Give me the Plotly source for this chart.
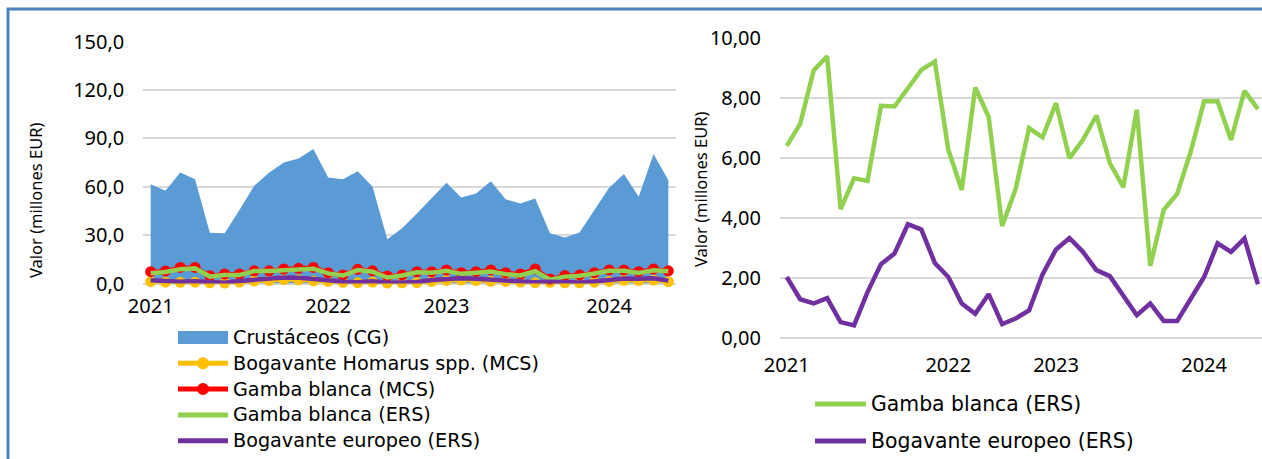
import plotly.graph_objects as go

# ─── Data ─────────────────────────────────────────────────────────────────────

periodo = list(range(36))  # monthly observations
year_labels = ["2021", "2022", "2023", "2024"]
year_pos = [0, 12, 20, 31]

crustaceos_cg = [61.5, 57.5, 68.9, 64.6, 31.5, 31.1, 45.6, 60.6, 68.7, 75.1, 77.6, 83.4,
                 65.8, 64.6, 69.7, 60.0, 27.4, 34.2, 43.5, 53.2, 62.5, 53.4, 55.9, 63.5,
                 52.2, 49.7, 52.8, 31.1, 28.6, 31.7, 45.6, 59.4, 67.9, 53.8, 80.3, 64.2]

bogavante_homarus_mcs = [1.2, 0.8, 0.7, 0.8, 0.4, 0.3, 0.9, 1.5, 1.8, 2.4, 2.3, 1.6,
                         1.3, 0.7, 0.5, 0.9, 0.3, 0.4, 0.6, 1.3, 1.9, 2.1, 1.8, 1.4,
                         1.3, 0.9, 0.5, 0.7, 0.4, 0.4, 0.8, 1.3, 2.0, 1.8, 2.1, 1.1]

gamba_blanca_mcs = [7.3, 7.8, 10.0, 10.0, 4.8, 5.9, 5.9, 7.9, 7.9, 9.0, 9.4, 10.0,
                    6.7, 5.3, 8.8, 7.9, 4.6, 5.3, 7.3, 7.3, 8.4, 6.7, 7.3, 8.4,
                    6.7, 5.9, 9.0, 2.8, 4.9, 5.3, 6.7, 8.4, 8.4, 7.3, 9.0, 7.9]

gamba_blanca_ers = [6.40, 7.13, 8.91, 9.38, 4.29, 5.32, 5.23, 7.73, 7.71, 8.32, 8.93, 9.21,
                    6.27, 4.93, 8.34, 7.36, 3.73, 4.96, 6.99, 6.68, 7.82, 5.99, 6.60, 7.41,
                    5.82, 5.02, 7.60, 2.40, 4.27, 4.80, 6.20, 7.88, 7.88, 6.60, 8.23, 7.62]

bogavante_europeo_ers = [2.03, 1.29, 1.15, 1.33, 0.53, 0.42, 1.53, 2.46, 2.81, 3.79, 3.61, 2.50,
                         2.03, 1.15, 0.81, 1.46, 0.46, 0.65, 0.92, 2.12, 2.95, 3.33, 2.87, 2.26,
                         2.06, 1.42, 0.76, 1.15, 0.57, 0.57, 1.31, 2.03, 3.15, 2.87, 3.31, 1.79]

# ─── Theme ────────────────────────────────────────────────────────────────────

W, H = 1262, 459
FONT = "Noto Sans"
LEG_FONT = "DejaVu Sans"
TEXT = "#000000"
GRID = "#d9d9d9"
BLUE = "#5b9bd5"
YELLOW = "#ffc000"
RED = "#ff0000"
GREEN = "#92d050"
PURPLE = "#7030a0"


def px_x(p):
    return p / W


def px_y(p):
    return (H - p) / H


fig = go.Figure()

# left panel
fig.add_trace(go.Scatter(
    x=periodo, y=crustaceos_cg, name="Crustáceos (CG)",
    mode="lines", fill="tozeroy", fillcolor=BLUE,
    line=dict(color=BLUE, width=0), xaxis="x", yaxis="y",
))
fig.add_trace(go.Scatter(
    x=periodo, y=bogavante_homarus_mcs, name="Bogavante Homarus spp. (MCS)",
    mode="lines+markers", line=dict(color=YELLOW, width=4),
    marker=dict(color=YELLOW, size=11), cliponaxis=False, xaxis="x", yaxis="y",
))
fig.add_trace(go.Scatter(
    x=periodo, y=gamba_blanca_mcs, name="Gamba blanca (MCS)",
    mode="lines+markers", line=dict(color=RED, width=4),
    marker=dict(color=RED, size=11), cliponaxis=False, xaxis="x", yaxis="y",
))
fig.add_trace(go.Scatter(
    x=periodo, y=gamba_blanca_ers, name="Gamba blanca (ERS)",
    mode="lines", line=dict(color=GREEN, width=4.5), xaxis="x", yaxis="y",
))
fig.add_trace(go.Scatter(
    x=periodo, y=bogavante_europeo_ers, name="Bogavante europeo (ERS)",
    mode="lines", line=dict(color=PURPLE, width=4.5), xaxis="x", yaxis="y",
))

# right panel
fig.add_trace(go.Scatter(
    x=periodo, y=gamba_blanca_ers, name="Gamba blanca (ERS)",
    mode="lines", line=dict(color=GREEN, width=4.5), xaxis="x2", yaxis="y2",
))
fig.add_trace(go.Scatter(
    x=periodo, y=bogavante_europeo_ers, name="Bogavante europeo (ERS)",
    mode="lines", line=dict(color=PURPLE, width=4.5), xaxis="x2", yaxis="y2",
))

axis_font = dict(family=FONT, size=20, color=TEXT)

fig.update_layout(
    width=W, height=H,
    paper_bgcolor="white", plot_bgcolor="white",
    margin=dict(l=0, r=0, t=0, b=0, autoexpand=False),
    separators=",.",
    font=dict(family=FONT, color=TEXT),
    showlegend=False,
    xaxis=dict(
        domain=[px_x(143.3), px_x(675.7)], range=[-0.5, 35.5],
        tickvals=year_pos, ticktext=year_labels, tickfont=axis_font,
        showgrid=False, zeroline=False, showline=False, ticks="",
        ticklabelstandoff=8, anchor="y",
    ),
    yaxis=dict(
        domain=[px_y(283.5), px_y(41.7)], range=[0, 150], dtick=30,
        tickformat=".1f", tickfont=axis_font,
        showgrid=True, gridcolor=GRID, gridwidth=1.5,
        zeroline=True, zerolinecolor=GRID, zerolinewidth=1.5,
        showline=False, ticks="", ticklabelstandoff=18, anchor="x",
    ),
    xaxis2=dict(
        domain=[px_x(780), 1.0], range=[-0.5, 35.3],
        tickvals=year_pos, ticktext=year_labels, tickfont=axis_font,
        showgrid=False, zeroline=False, showline=False, ticks="",
        ticklabelstandoff=13, anchor="y2",
    ),
    yaxis2=dict(
        domain=[px_y(338), px_y(37.7)], range=[0, 10], dtick=2,
        tickformat=".2f", tickfont=axis_font,
        showgrid=True, gridcolor=GRID, gridwidth=1.5,
        zeroline=True, zerolinecolor=GRID, zerolinewidth=1.5,
        showline=False, ticks="", ticklabelstandoff=18, anchor="x2",
    ),
)

# axis titles
for xc, yc in [(35, 201), (700, 190)]:
    fig.add_annotation(
        text="Valor (millones EUR)", textangle=-90,
        xref="paper", yref="paper", x=px_x(xc), y=px_y(yc),
        xanchor="center", yanchor="middle", showarrow=False,
        font=dict(family=FONT, size=16.5, color=TEXT),
    )


# ─── Legends (drawn by hand for exact spacing) ───────────────────────────────

def legend_entry(x0, x1, yc, label, color, kind, size):
    if kind == "box":
        fig.add_shape(type="rect", xref="paper", yref="paper",
                      x0=px_x(x0), x1=px_x(x1), y0=px_y(yc + 6.5), y1=px_y(yc - 6.5),
                      line=dict(width=0), fillcolor=color)
    else:
        fig.add_shape(type="line", xref="paper", yref="paper",
                      x0=px_x(x0), x1=px_x(x1), y0=px_y(yc), y1=px_y(yc),
                      line=dict(color=color, width=5))
        if kind == "marker":
            xm = (x0 + x1) / 2
            fig.add_shape(type="circle", xref="paper", yref="paper",
                          x0=px_x(xm - 6), x1=px_x(xm + 6), y0=px_y(yc + 6), y1=px_y(yc - 6),
                          line=dict(width=0), fillcolor=color)
    fig.add_annotation(
        text=label, xref="paper", yref="paper", x=px_x(x1 + 3), y=px_y(yc),
        xanchor="left", yanchor="middle", showarrow=False,
        font=dict(family=LEG_FONT, size=size, color=TEXT),
    )


left_legend = [
    ("Crustáceos (CG)", BLUE, "box"),
    ("Bogavante Homarus spp. (MCS)", YELLOW, "marker"),
    ("Gamba blanca (MCS)", RED, "marker"),
    ("Gamba blanca (ERS)", GREEN, "line"),
    ("Bogavante europeo (ERS)", PURPLE, "line"),
]
for i, (label, color, kind) in enumerate(left_legend):
    legend_entry(178, 228, 337.5 + 25.8 * i, label, color, kind, 19.2)

right_legend = [
    ("Gamba blanca (ERS)", GREEN, "line"),
    ("Bogavante europeo (ERS)", PURPLE, "line"),
]
for i, (label, color, kind) in enumerate(right_legend):
    legend_entry(815, 866, 404 + 37 * i, label, color, kind, 20.4)

# outer frame
fig.add_shape(
    type="rect", xref="paper", yref="paper",
    x0=px_x(8), x1=1.05, y0=-0.05, y1=px_y(9),
    line=dict(color="#4f81bd", width=3), fillcolor="rgba(0,0,0,0)", layer="above",
)

# drop the default page margin so the figure sits at the window origin
fig.write_html(
    "out.html",
    config={"displayModeBar": False},
    post_script="document.body.style.margin='0';",
)
